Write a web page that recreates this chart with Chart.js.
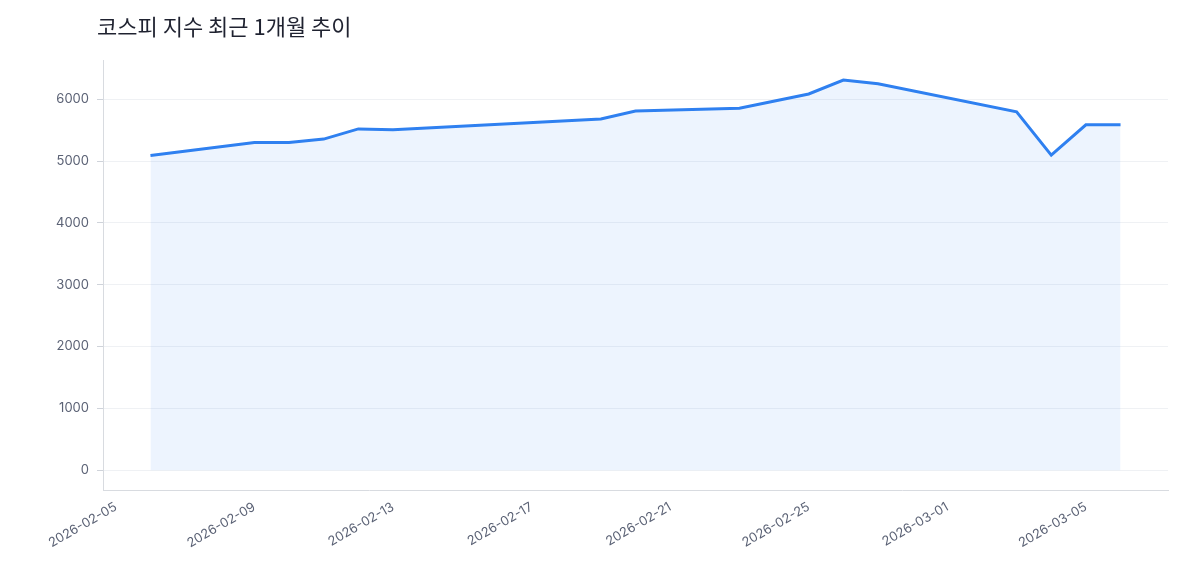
<!DOCTYPE html>
<html><head><meta charset="utf-8">
<script src="https://cdn.jsdelivr.net/npm/chart.js@4/dist/chart.umd.min.js"></script>
<style>html,body{margin:0;background:#fff}#wrap{position:relative;width:1183px;height:585px}
#t{position:absolute;left:97px;top:9px;font:22px 'Noto Sans CJK KR',sans-serif;color:#1f2230}</style>
</head><body><div id="wrap"><div id="t">코스피 지수 최근 1개월 추이</div><canvas id="c"></canvas></div>
<script>
const dates = ['2026-02-06','2026-02-09','2026-02-10','2026-02-11','2026-02-12','2026-02-13','2026-02-19','2026-02-20','2026-02-23','2026-02-25','2026-02-26','2026-02-27','2026-03-03','2026-03-04','2026-03-05','2026-03-06'];
const values = [5090, 5300, 5300, 5355, 5520, 5505, 5680, 5810, 5855, 6085, 6310, 6250, 5795, 5095, 5585, 5585];
const tickValues = [0, 1000, 2000, 3000, 4000, 5000, 6000];

const base = Date.UTC(2026, 1, 5);
const DAY = 86400000;
const toDay = s => (Date.parse(s + 'T00:00:00Z') - base) / DAY;
const fmt = d => new Date(base + d * DAY).toISOString().slice(0, 10);

Chart.defaults.font.family = "Inter, 'Noto Sans CJK KR', sans-serif";

new Chart(document.getElementById('c'), {
  type: 'line',
  data: {
    datasets: [{
      data: dates.map((d, i) => ({ x: toDay(d), y: values[i] })),
      borderColor: '#2f80f0',
      borderWidth: 3,
      backgroundColor: 'rgba(59,130,246,0.09)',
      fill: 'origin',
      pointRadius: 0,
      tension: 0
    }]
  },
  options: {
    responsive: true, maintainAspectRatio: false, animation: false,
    layout: { padding: { left: 48, right: 15, top: 60, bottom: 31 } },
    plugins: { legend: { display: false } },
    scales: {
      x: {
        type: 'linear', min: -0.37, max: 30.37,
        afterBuildTicks: a => { a.ticks = [0, 4, 8, 12, 16, 20, 24, 28].map(v => ({ value: v })); },
        ticks: { callback: v => fmt(v), maxRotation: 30, minRotation: 30, color: '#5b6275', font: { size: 13 } },
        grid: { display: false, drawTicks: true, tickLength: 6, tickColor: '#cfd3da' },
        border: { color: '#d8dbe0' }
      },
      y: {
        min: -324, max: 6634,
        afterBuildTicks: a => { a.ticks = tickValues.map(v => ({ value: v })); },
        ticks: { callback: v => String(v), color: '#5b6275', font: { size: 13 }, padding: 8 },
        grid: { color: '#eff1f4', tickLength: 6, tickColor: '#cfd3da' },
        border: { color: '#d8dbe0' }
      }
    }
  }
});
</script></body></html>
